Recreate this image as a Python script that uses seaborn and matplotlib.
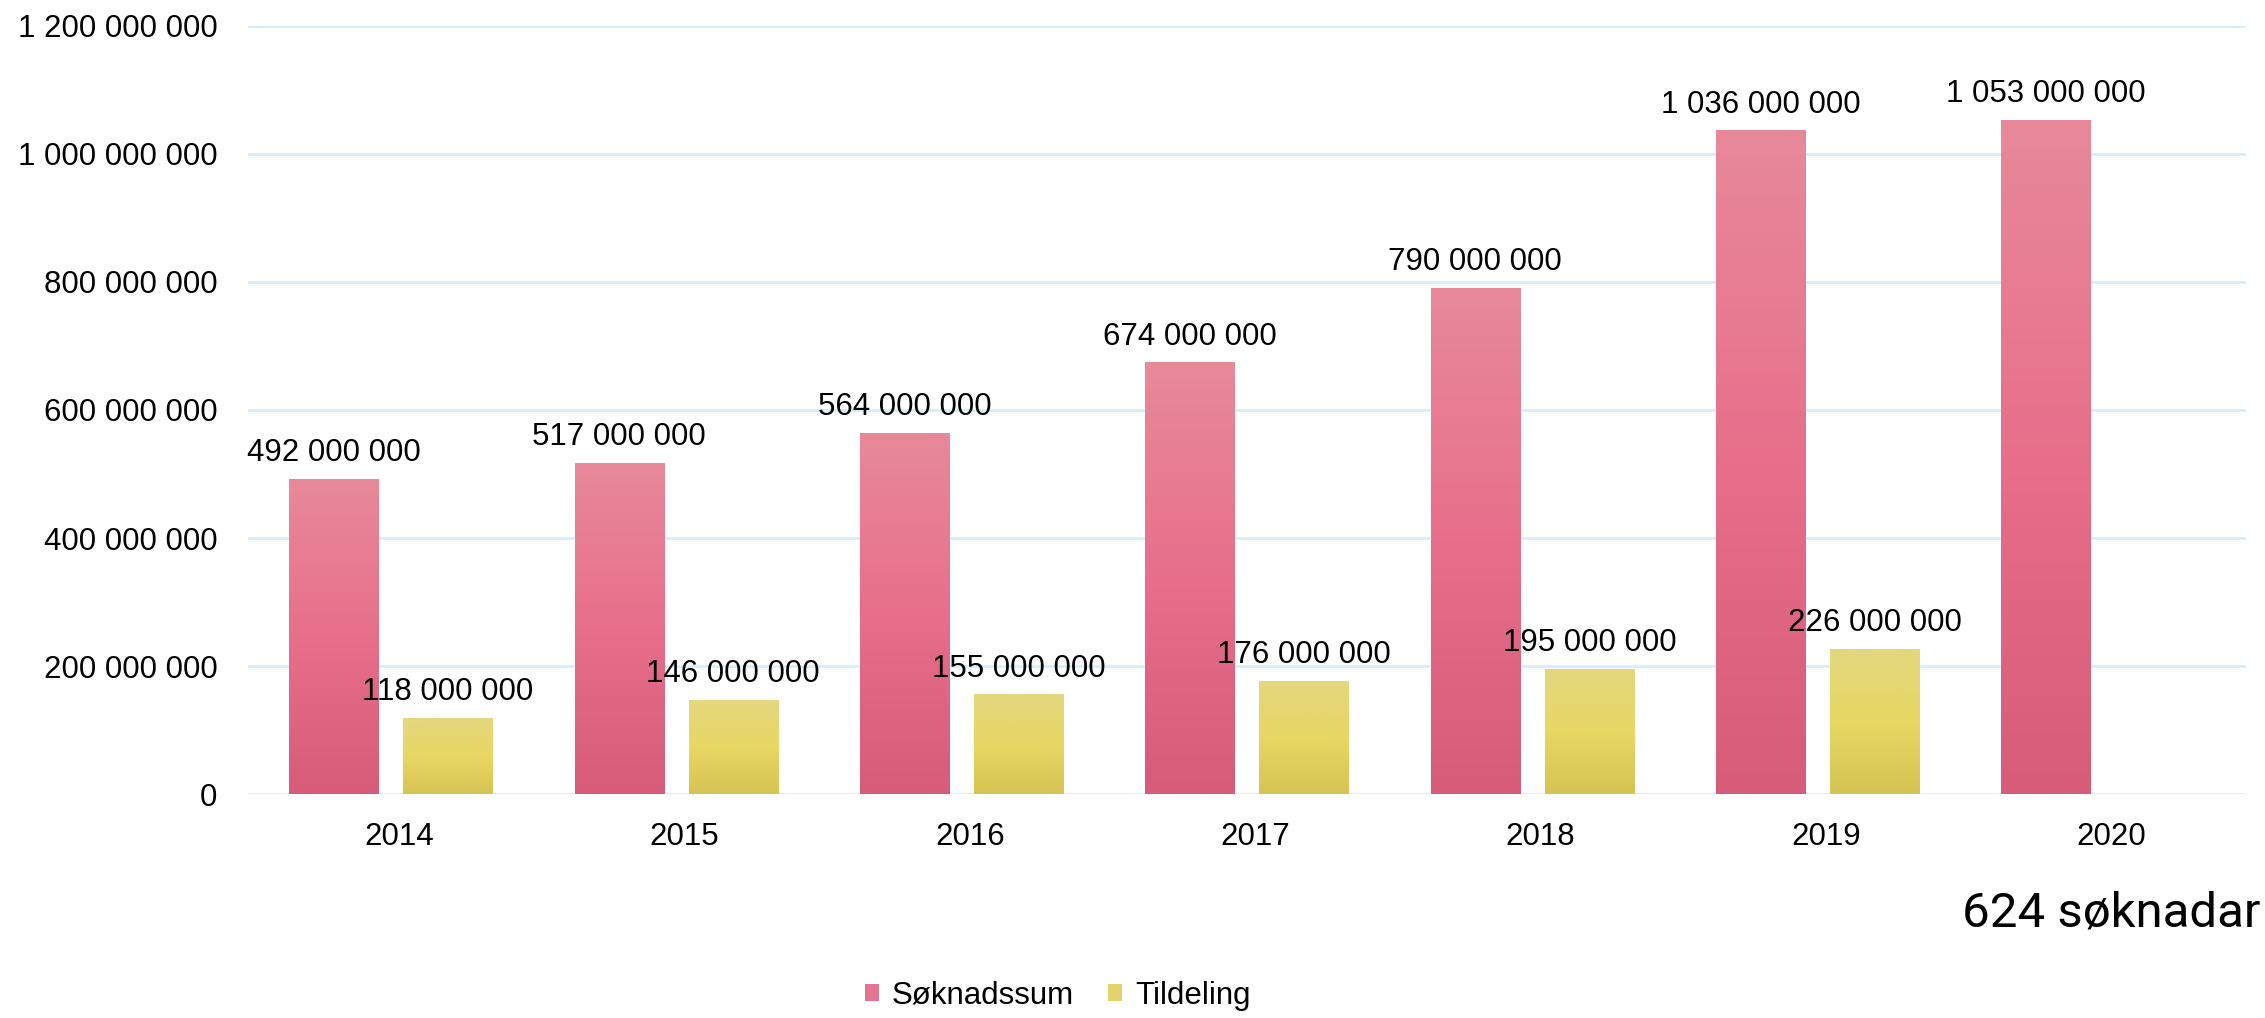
import numpy as np
import pandas as pd
import matplotlib
matplotlib.use("Agg")
import matplotlib.pyplot as plt
import matplotlib.transforms as mtransforms
import seaborn as sns
from matplotlib.colors import LinearSegmentedColormap
from matplotlib.patches import Patch

# data
years = ["2014", "2015", "2016", "2017", "2018", "2019", "2020"]
soknadssum = [492e6, 517e6, 564e6, 674e6, 790e6, 1036e6, 1053e6]
tildeling = [118e6, 146e6, 155e6, 176e6, 195e6, 226e6, np.nan]
series_names = ["Søknadssum", "Tildeling"]
note_text = "624 søknadar"

df = pd.DataFrame({
    "year": years * 2,
    "value": soknadssum + tildeling,
    "series": [series_names[0]] * len(years) + [series_names[1]] * len(years),
})

sns.set_style("white")
plt.rcParams["font.family"] = ["Liberation Sans", "DejaVu Sans"]
plt.rcParams["text.color"] = "black"
plt.rcParams["xtick.color"] = "black"
plt.rcParams["ytick.color"] = "black"

pink_cmap = LinearSegmentedColormap.from_list("pink", ["#D65C79", "#E76F8B", "#E8899A"])
yellow_cmap = LinearSegmentedColormap.from_list("yellow", ["#D5C453", "#E8D763", "#E4D77F"])
mid_colors = {series_names[0]: "#E47590", series_names[1]: "#E2D46A"}

fig = plt.figure(figsize=(22.65, 10.18), dpi=100)
ax = fig.add_axes([0.1095, 0.22, 0.882, 0.7545])

sns.barplot(data=df, x="year", y="value", hue="series", palette=mid_colors,
            width=0.8, gap=0.22, ax=ax, legend=False, errorbar=None)

# gradient fill over each bar
grad = np.linspace(0, 1, 256).reshape(-1, 1)
for cont, cmap in zip(ax.containers, [pink_cmap, yellow_cmap]):
    for bar in cont:
        h = bar.get_height()
        if not np.isfinite(h) or h <= 0:
            continue
        x0, w = bar.get_x(), bar.get_width()
        ax.imshow(grad, extent=[x0, x0 + w, 0, h], origin="lower", aspect="auto",
                  cmap=cmap, zorder=bar.get_zorder() + 0.1)
    labels = ["" if not np.isfinite(v) else f"{v:,.0f}".replace(",", " ")
              for v in cont.datavalues]
    ax.bar_label(cont, labels=labels, padding=8, fontsize=22.5, color="black")

ax.set_xlim(-0.5, 6.5)
ax.set_ylim(0, 1.2e9)

fmt = matplotlib.ticker.FuncFormatter(lambda v, p: f"{v:,.0f}".replace(",", " "))
ax.yaxis.set_major_formatter(fmt)
ax.set_yticks(np.arange(0, 1.2e9 + 1, 2e8))
ax.grid(axis="y", color="#D3F0FB", linewidth=2)
ax.set_axisbelow(True)
sns.despine(ax=ax, left=True, bottom=True)
ax.tick_params(axis="y", length=0, pad=22, labelsize=22.5, labelcolor="black")
ax.tick_params(axis="x", length=0, pad=20, labelsize=22.5, labelcolor="black")
ax.set_xlabel("")
ax.set_ylabel("")

# year labels sit a little right of the group centre
shift = mtransforms.ScaledTranslation(6 / 72, 0, fig.dpi_scale_trans)
for lbl in ax.get_xticklabels():
    lbl.set_transform(lbl.get_transform() + shift)

fig.text(0.998, 0.103, note_text, ha="right", va="center", fontsize=35.5,
         color="black", family=["Roboto", "DejaVu Sans"])

handles = [Patch(facecolor=mid_colors[s], edgecolor="none", label=s) for s in series_names]
fig.legend(handles=handles, loc="center", bbox_to_anchor=(0.467, 0.022), ncol=2,
           frameon=False, fontsize=22.5, handlelength=0.45, handleheight=0.45,
           handletextpad=0.4, columnspacing=1.1, labelcolor="black")

fig.savefig("out.png", dpi=100)
